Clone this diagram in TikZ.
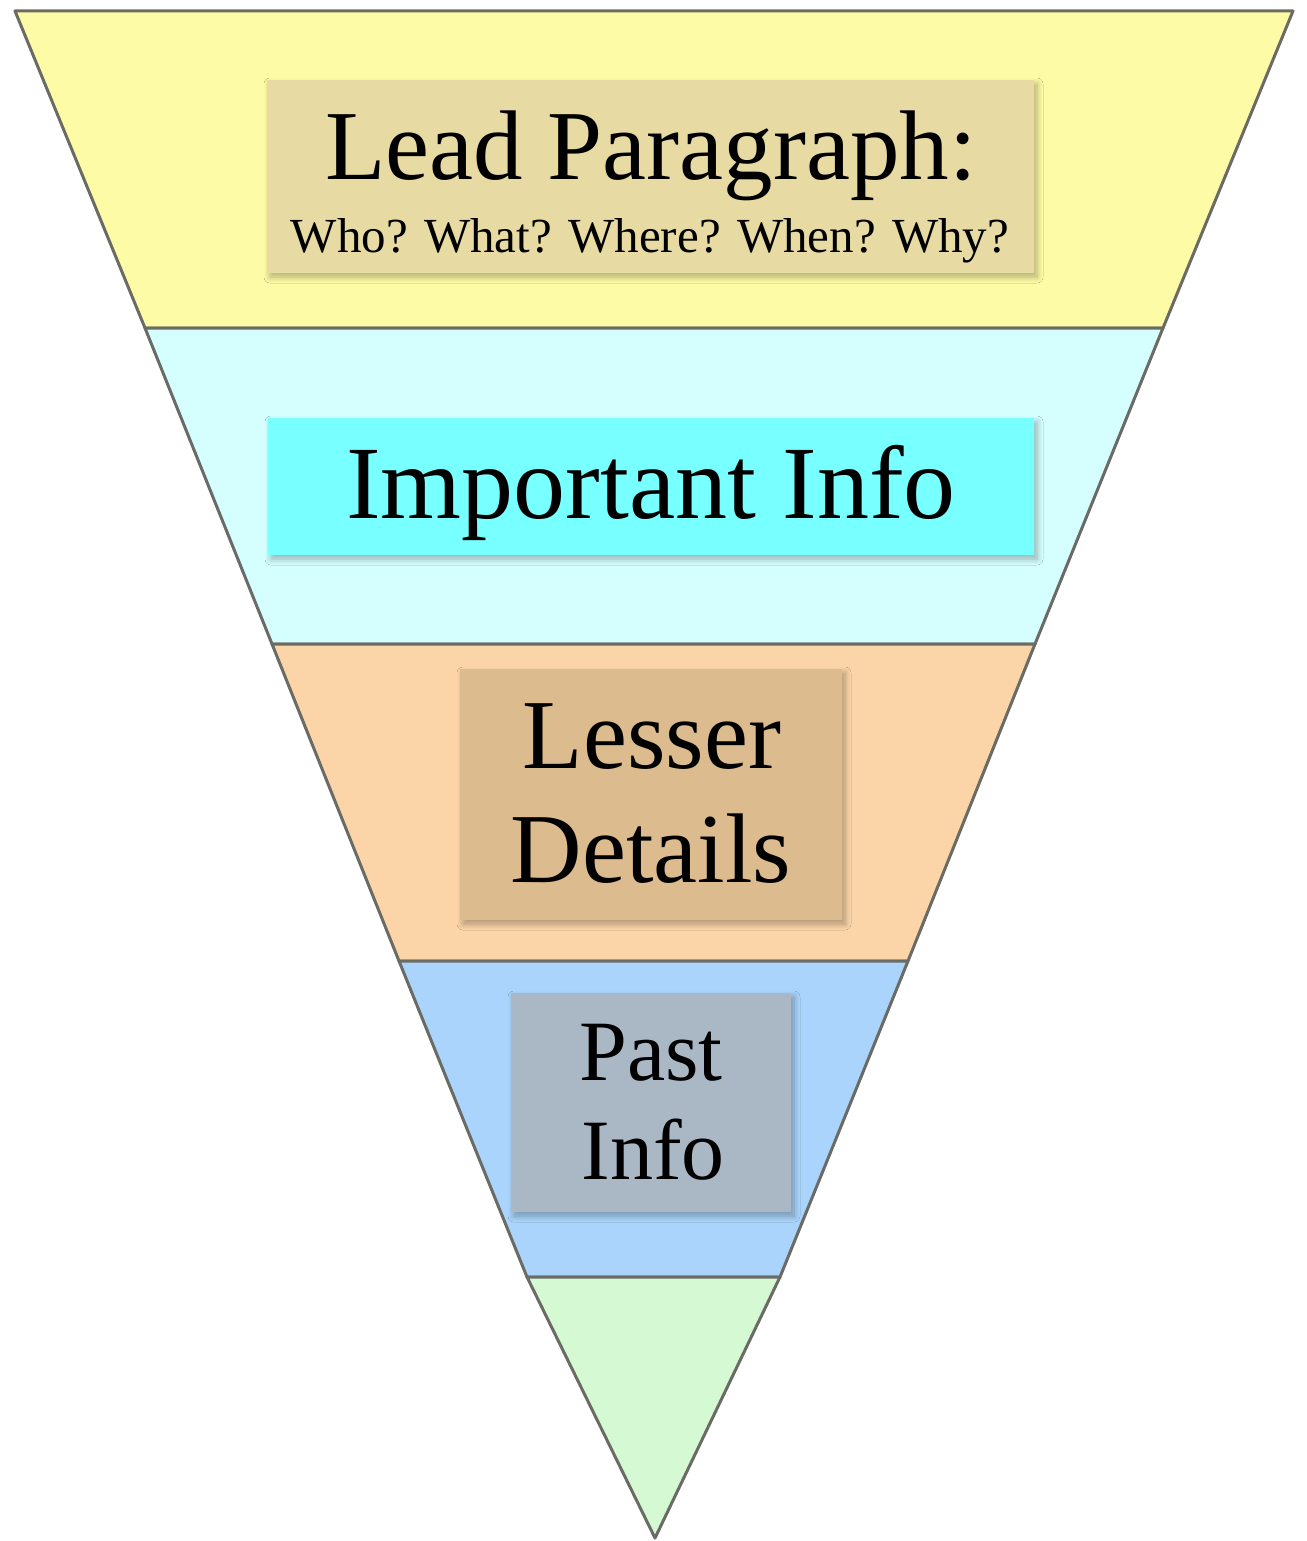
\documentclass[tikz,border=0pt]{standalone}
\usepackage{fontspec}
\setmainfont{Liberation Serif}
\usetikzlibrary{shadows.blur}
\definecolor{edgegray}{HTML}{6B6B66}
\definecolor{bandA}{HTML}{FEFBA6}
\definecolor{bandB}{HTML}{D5FEFE}
\definecolor{bandC}{HTML}{FBD5A8}
\definecolor{bandD}{HTML}{AAD4FB}
\definecolor{bandE}{HTML}{D5F9D3}
\definecolor{boxA}{HTML}{E7DBA3}
\definecolor{boxB}{HTML}{78FFFF}
\definecolor{boxC}{HTML}{DCBB8F}
\definecolor{boxD}{HTML}{AAB8C6}
\tikzset{
  band/.style={draw=edgegray, line width=3pt, line join=round},
  labelbox/.style={rectangle, inner sep=0pt, draw=none,
    blur shadow={shadow xshift=3pt, shadow yshift=-4pt, shadow blur radius=6pt, shadow blur steps=8, shadow opacity=30}},
  txt/.style={anchor=base, inner sep=0pt, text=black}
}
\begin{document}
\begin{tikzpicture}[x=1pt,y=-1pt]
\useasboundingbox (0,0) rectangle (1306,1541);
% bands
\draw[band, fill=bandA] (15,11) -- (1293,11) -- (1163,328) -- (145,328) -- cycle;
\draw[band, fill=bandB] (145,328) -- (1163,328) -- (1035,644) -- (272,644) -- cycle;
\draw[band, fill=bandC] (272,644) -- (1035,644) -- (908,961) -- (399,961) -- cycle;
\draw[band, fill=bandD] (399,961) -- (908,961) -- (780,1277) -- (527,1277) -- cycle;
\draw[band, fill=bandE] (527,1277) -- (780,1277) -- (655,1538) -- cycle;
% boxes
\node[labelbox, fill=boxA, minimum width=767pt, minimum height=193pt] (leadbox) at (650.5,176.5) {};
\node[labelbox, fill=boxB, minimum width=766pt, minimum height=137pt] (impbox) at (651,486.5) {};
\node[labelbox, fill=boxC, minimum width=382pt, minimum height=251pt] (lessbox) at (651,794.5) {};
\node[labelbox, fill=boxD, minimum width=280pt, minimum height=219pt] (pastbox) at (651,1102.5) {};
% texts
\node[txt, font=\fontsize{99}{110}\selectfont] (lead) at (651,179) {Lead Paragraph:};
\node[txt, font=\fontsize{49}{56}\selectfont] (who) at (650,252) {Who? What? Where? When? Why?};
\node[txt, font=\fontsize{104}{115}\selectfont] (imp) at (651,518) {Important Info};
\node[txt, font=\fontsize{99}{110}\selectfont] (lesser) at (652,768) {Lesser};
\node[txt, font=\fontsize{99}{110}\selectfont] (details) at (651,882) {Details};
\node[txt, font=\fontsize{86}{96}\selectfont] (past) at (651,1080) {Past};
\node[txt, font=\fontsize{86}{96}\selectfont] (info) at (653,1179) {Info};
\end{tikzpicture}
\end{document}
